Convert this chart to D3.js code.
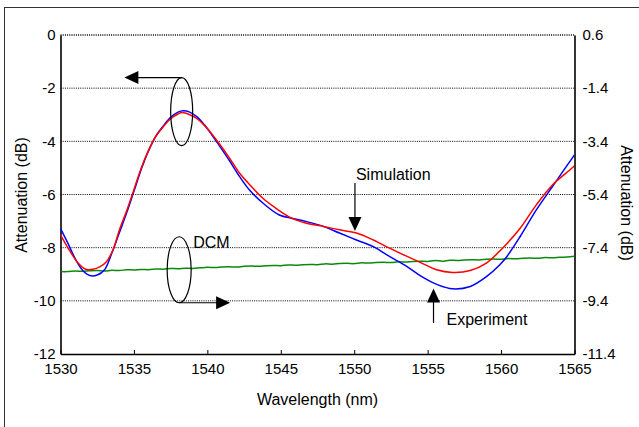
<!DOCTYPE html>
<html><head><meta charset="utf-8">
<script src="https://cdn.jsdelivr.net/npm/d3@7"></script>
<style>
html,body{margin:0;padding:0;background:#fff;}
svg{display:block;font-family:"Liberation Sans",Arial,sans-serif;}
</style></head>
<body><svg id="c" width="639" height="427"></svg>
<script>
// ---- data ----
const xTicks = [1530, 1535, 1540, 1545, 1550, 1555, 1560, 1565];
const yLeftTicks = [0, -2, -4, -6, -8, -10, -12];
const yRightTicks = [0.6, -1.4, -3.4, -5.4, -7.4, -9.4, -11.4];

// Experiment (blue), left axis
const expWl = [1530.0,1530.5,1531.1,1531.5,1532.0,1532.5,1533.0,1533.5,1534.0,1534.5,1535.0,1535.5,1536.0,1536.5,1537.0,1537.5,1538.0,1538.35,1538.8,1539.3,1539.8,1540.3,1540.8,1541.5,1542.2,1542.9,1543.8,1544.9,1545.8,1546.75,1547.9,1549.0,1550.15,1551.3,1552.4,1553.6,1554.6,1555.7,1556.7,1557.9,1559.0,1559.9,1560.4,1561.3,1562.4,1563.5,1564.2,1565.0];
const expVal = [-7.27,-7.83,-8.52,-8.85,-9.05,-9.03,-8.83,-8.2,-7.45,-6.7,-5.88,-5.05,-4.35,-3.8,-3.42,-3.1,-2.9,-2.85,-2.9,-3.08,-3.38,-3.75,-4.15,-4.72,-5.33,-5.85,-6.33,-6.77,-6.9,-7.02,-7.2,-7.45,-7.71,-7.96,-8.33,-8.71,-9.09,-9.4,-9.55,-9.46,-9.09,-8.65,-8.33,-7.58,-6.58,-5.7,-5.14,-4.51];

// Simulation (red), left axis
const simWl = [1530.0,1530.5,1531.2,1531.7,1532.2,1532.7,1533.1,1533.6,1534.0,1534.5,1535.0,1535.5,1536.0,1536.5,1537.0,1537.5,1538.0,1538.3,1538.8,1539.3,1539.8,1540.3,1540.8,1541.5,1542.2,1542.9,1543.8,1544.5,1545.6,1546.75,1547.9,1549.0,1550.15,1551.3,1552.4,1553.6,1554.6,1555.6,1556.7,1557.9,1559.0,1560.1,1561.3,1562.4,1563.5,1564.7,1565.0];
const simVal = [-7.52,-8.0,-8.58,-8.81,-8.81,-8.71,-8.55,-8.05,-7.35,-6.62,-5.82,-5.0,-4.33,-3.8,-3.45,-3.15,-2.97,-2.92,-3.0,-3.15,-3.4,-3.72,-4.08,-4.62,-5.2,-5.64,-6.15,-6.45,-6.85,-7.08,-7.2,-7.33,-7.45,-7.71,-8.02,-8.33,-8.58,-8.83,-8.93,-8.86,-8.58,-8.02,-7.27,-6.39,-5.64,-5.07,-4.92];

// DCM (green), right axis, every 0.5 nm from 1530 to 1565
const dcmStart = 1530, dcmStep = 0.5;
const dcmVal = [-8.30,-8.30,-8.28,-8.29,-8.27,-8.26,-8.28,-8.25,-8.26,-8.23,-8.24,-8.22,-8.23,-8.20,-8.21,-8.18,-8.19,-8.17,-8.18,-8.16,-8.14,-8.15,-8.13,-8.12,-8.13,-8.10,-8.09,-8.10,-8.08,-8.07,-8.08,-8.05,-8.06,-8.04,-8.03,-8.04,-8.01,-8.02,-8.00,-7.99,-8.00,-7.97,-7.98,-7.96,-7.95,-7.96,-7.93,-7.94,-7.92,-7.91,-7.92,-7.88,-7.91,-7.87,-7.88,-7.86,-7.85,-7.86,-7.84,-7.83,-7.84,-7.81,-7.82,-7.80,-7.79,-7.80,-7.77,-7.78,-7.76,-7.75,-7.72];

// ---- chart ----
const svg = d3.select("#c");
const L = 60.5, R = 574.5, T = 35, B = 354;
const x = d3.scaleLinear().domain([1530, 1565]).range([L, R]);
const yL = d3.scaleLinear().domain([-12, 0]).range([B, T]);
const yR = d3.scaleLinear().domain([-11.4, 0.6]).range([B, T]);

// outer frame
svg.append("rect").attr("x", 4.5).attr("y", 7.5).attr("width", 700).attr("height", 500)
  .attr("fill", "none").attr("stroke", "#333").attr("stroke-width", 1);

// gridlines
svg.append("g").selectAll("line").data(yLeftTicks.filter(d => d > -12)).join("line")
  .attr("x1", L).attr("x2", R).attr("y1", d => yL(d)).attr("y2", d => yL(d))
  .attr("stroke", "#000").attr("stroke-width", d => d === 0 ? 1.6 : 1)
  .attr("stroke-dasharray", "1,1.2");

// axes
const fs = "15px";
const gx = svg.append("g").attr("transform", `translate(0,${B})`)
  .call(d3.axisBottom(x).tickValues(xTicks).tickSizeInner(-4).tickSizeOuter(0).tickPadding(9).tickFormat(d => String(d)));
const gl = svg.append("g").attr("transform", `translate(${L},0)`)
  .call(d3.axisLeft(yL).tickValues(yLeftTicks).tickSize(0).tickPadding(5).tickFormat(d => String(d)));
const gr = svg.append("g").attr("transform", `translate(${R},0)`)
  .call(d3.axisRight(yR).tickValues(yRightTicks).tickSize(0).tickPadding(8).tickFormat(d => d.toFixed(1)));
[gx, gl, gr].forEach(g => {
  g.selectAll("text").attr("font-size", fs).attr("fill", "#000").attr("font-family", '"Liberation Sans",Arial,sans-serif');
  g.select(".domain").attr("stroke", "#000").attr("stroke-width", 1.6);
  g.selectAll(".tick line").attr("stroke", "#000").attr("stroke-width", 1);
});

// curves
const line = (ys) => d3.line().x(d => x(d[0])).y(d => ys(d[1])).curve(d3.curveCatmullRom.alpha(0.5));
svg.append("clipPath").attr("id", "pc").append("rect")
  .attr("x", L).attr("y", T).attr("width", R - L).attr("height", B - T);
const dcmData = dcmVal.map((v, i) => [dcmStart + i * dcmStep, v]);
svg.append("path").datum(dcmData).attr("d", line(yR)).attr("fill", "none")
  .attr("stroke", "#0a8a0a").attr("stroke-width", 1.5).attr("clip-path", "url(#pc)");
svg.append("path").datum(expWl.map((w, i) => [w, expVal[i]])).attr("d", line(yL)).attr("fill", "none")
  .attr("stroke", "#0000ff").attr("stroke-width", 1.5).attr("clip-path", "url(#pc)");
svg.append("path").datum(simWl.map((w, i) => [w, simVal[i]])).attr("d", line(yL)).attr("fill", "none")
  .attr("stroke", "#ff0000").attr("stroke-width", 1.5).attr("clip-path", "url(#pc)");

// annotations
const ann = svg.append("g").attr("stroke", "#000").attr("stroke-width", 1.2).attr("fill", "none");
function arrowHead(tipX, tipY, dir) {
  const len = 14, hw = 6.5;
  let pts;
  if (dir === 'l') pts = [[tipX, tipY], [tipX + len, tipY - hw], [tipX + len, tipY + hw]];
  if (dir === 'r') pts = [[tipX, tipY], [tipX - len, tipY - hw], [tipX - len, tipY + hw]];
  if (dir === 'd') pts = [[tipX, tipY], [tipX - hw, tipY - len], [tipX + hw, tipY - len]];
  if (dir === 'u') pts = [[tipX, tipY], [tipX - hw, tipY + len], [tipX + hw, tipY + len]];
  svg.append("polygon").attr("points", pts.map(p => p.join(",")).join(" ")).attr("fill", "#000");
}
// peak ellipse -> left axis
const pcx = x(1538.25), pcy = yL(-2.88);
ann.append("ellipse").attr("cx", pcx).attr("cy", pcy).attr("rx", 11).attr("ry", 34);
const pTipX = x(1534.35);
ann.append("line").attr("x1", pcx).attr("y1", pcy - 34).attr("x2", pTipX + 12).attr("y2", pcy - 34);
arrowHead(pTipX, pcy - 34, 'l');
// DCM ellipse -> right axis
const dcx = x(1538.08), dcy = yR(-8.23);
ann.append("ellipse").attr("cx", dcx).attr("cy", dcy).attr("rx", 12).attr("ry", 33);
const dTipX = x(1541.55);
ann.append("line").attr("x1", dcx).attr("y1", dcy + 33).attr("x2", dTipX - 12).attr("y2", dcy + 33);
arrowHead(dTipX, dcy + 33, 'r');
svg.append("text").attr("x", dcx + 14).attr("y", dcy - 21.5).attr("font-size", "16px").text("DCM");
// Simulation
const sx = x(1550.05);
svg.append("text").attr("x", sx + 1).attr("y", 180).attr("font-size", "16px").text("Simulation");
ann.append("line").attr("x1", sx).attr("y1", 183).attr("x2", sx).attr("y2", 220);
arrowHead(sx, 231, 'd');
// Experiment
const ex = x(1555.4);
svg.append("text").attr("x", ex + 13).attr("y", 325).attr("font-size", "16px").text("Experiment");
ann.append("line").attr("x1", ex).attr("y1", 296).attr("x2", ex).attr("y2", 323);
arrowHead(ex, 288.5, 'u');

// axis titles
svg.append("text").attr("text-anchor", "middle").attr("font-size", "16px")
  .attr("transform", "translate(27,195) rotate(-90)").text("Attenuation (dB)");
svg.append("text").attr("text-anchor", "middle").attr("font-size", "16px")
  .attr("transform", "translate(621,203) rotate(90)").text("Attenuation (dB)");
svg.append("text").attr("text-anchor", "middle").attr("font-size", "16px")
  .attr("x", (L + R) / 2).attr("y", 405).text("Wavelength (nm)");
</script></body></html>
